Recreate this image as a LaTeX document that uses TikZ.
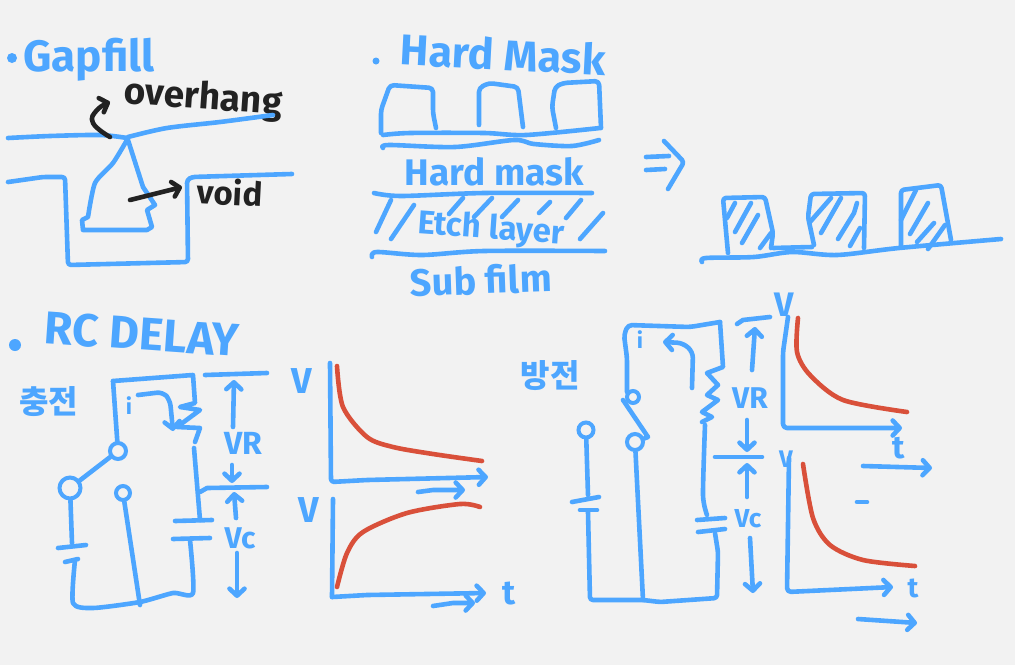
\documentclass[tikz,border=0pt]{standalone}
\usepackage{xcolor}
\usepackage{fontspec}
\setmainfont{Fira Sans}
\newfontfamily\cjk{Noto Sans CJK KR}
\usetikzlibrary{arrows.meta}
\definecolor{pen}{HTML}{4DA6FF}
\definecolor{ink}{HTML}{222222}
\definecolor{curve}{HTML}{D9503A}
\definecolor{paper}{HTML}{F2F2F2}

\begin{document}
\begin{tikzpicture}[
    x=1pt, y=-1pt,
    wire/.style={draw=pen, line width=4.6pt, line cap=round, line join=round},
    inkwire/.style={wire, draw=ink},
    redwire/.style={wire, draw=curve},
    arr/.style={-{Straight Barb[length=7pt, width=15pt, round]}},
    contact/.style={circle, draw=pen, line width=4pt, inner sep=0pt, minimum size=#1},
    lab/.style={font=\bfseries\fontsize{#1}{#1}\selectfont, text=pen, inner sep=0pt},
    inklab/.style={lab=#1, text=ink}
]

\fill[paper] (0,0) rectangle (1015,665);

% gapfill
\fill[pen] (12,58) circle (5);
\node[lab=44] (gapfill) at (89,60) {Gapfill};
\node[inklab=37, rotate=-4] (overhang) at (203,99) {overhang};
\node[inklab=33, rotate=-3] (void) at (230,192) {void};
\draw[wire] plot[smooth, tension=.5] coordinates {(8,138) (50,136) (100,135) (127,138)};
\draw[wire] plot[smooth, tension=.5] coordinates {(128,137) (167,128) (220,122) (273,115)};
\draw[wire, rounded corners=3pt] (8,182) -- (43,177) -- (65,177) -- (68,265) -- (188,262) -- (187,180) -- (192,177) -- (292,174);
\draw[wire] plot[smooth, tension=.4] coordinates {(127,140) (113,163) (95,183) (88,217)} -- (82,220) -- (83,230) -- (147,230) -- (152,227) -- (147,210) -- (155,205) -- (143,187) -- (128,140);
\draw[inkwire, arr] plot[smooth, tension=.8] coordinates {(110,137) (93,123) (97,110) (110,102)};
\draw[inkwire, arr] (130,200) -- (182,187);

% hard mask
\fill[pen] (376,61) circle (3.5);
\node[lab=43, rotate=-3] (hardmasktitle) at (503,54) {Hard Mask};
\node[lab=37] (hardmask) at (494,172) {Hard mask};
\node[lab=33, rotate=-4] (etchlayer) at (491,230) {Etch layer};
\node[lab=38, rotate=2] (subfilm) at (481,280) {Sub film};
\draw[wire, rounded corners=4pt] (381,133) -- (381,110) -- (390,85) -- (433,88) -- (433,113) -- (436,128);
\draw[wire, rounded corners=4pt] (479,125) -- (479,88) -- (489,83) -- (518,87) -- (523,127);
\draw[wire, rounded corners=4pt] (556,128) -- (552,107) -- (555,87) -- (563,83) -- (599,81) -- (601,128);
\draw[wire] plot[smooth, tension=.5] coordinates {(383,135) (410,133) (484,133) (526,135) (600,128)};
\draw[wire] plot[smooth, tension=.5] coordinates {(383,148) (389,145) (455,147) (514,140) (534,144) (572,146) (599,140)};
\draw[wire] plot[smooth, tension=.5] coordinates {(374,193) (401,196) (484,193) (592,193)};
\draw[wire] plot[smooth, tension=.5] coordinates {(372,257) (377,252) (422,255) (484,251) (605,251)};
\draw[wire] (391,200) -- (376,232);
\draw[wire] (414,205) -- (391,239);
\draw[wire] (463,198) -- (449,214);
\draw[wire] (492,198) -- (474,217);
\draw[wire] (518,200) -- (502,217);
\draw[wire] (550,202) -- (539,213);
\draw[wire] (581,200) -- (566,218);
\draw[wire] (603,213) -- (580,239);

% etched result
\draw[wire] (646,157) -- (669,156);
\draw[wire] (646,170) -- (665,169);
\draw[wire, rounded corners=3pt] (664,141) -- (684,162) -- (668,189);
\draw[wire] plot[smooth, tension=.5] coordinates {(702,262) (706,258) (754,257) (792,252) (837,255) (899,248) (1001,239)};
\draw[wire, rounded corners=3pt] (728,253) -- (723,198) -- (765,197) -- (773,233) -- (771,248);
\draw[wire] (773,248) -- (812,247);
\draw[wire, rounded corners=3pt] (814,245) -- (808,217) -- (811,194) -- (865,193) -- (864,248);
\draw[wire, rounded corners=3pt] (901,247) -- (901,190) -- (941,185) -- (951,240);
\draw[wire] (735,203) -- (727,218);
\draw[wire] (751,203) -- (735,232);
\draw[wire] (758,215) -- (742,243);
\draw[wire] (771,233) -- (760,248);
\draw[wire] (831,198) -- (810,222);
\draw[wire] (841,198) -- (821,233);
\draw[wire] (857,203) -- (854,213) -- (838,239);
\draw[wire] (860,228) -- (850,246);
\draw[wire] (916,190) -- (901,220);
\draw[wire] (928,203) -- (910,234);
\draw[wire] (934,223) -- (917,242);
\draw[wire] (945,225) -- (928,249);

% rc delay, charging
\fill[pen] (15,345) circle (6);
\node[lab=46, rotate=-4] (rcdelay) at (142,334) {RC DELAY};
\node[lab=32] (charge) at (49,402) {\cjk\bfseries 충전};
\node[contact=16pt] (swtop) at (118,451) {};
\node[contact=21pt] (swleft) at (70,488) {};
\node[contact=14pt] (swright) at (123,493) {};
\node[lab=22] (ichg) at (129,406) {i};
\draw[wire] (113,381) -- (193,375) -- (195,403) -- (180,407) -- (200,410) -- (177,427) -- (200,428) -- (195,442);
\draw[wire] (113,381) -- (swtop);
\draw[wire] (swtop) -- (swleft);
\draw[wire] (swleft) -- (72,543);
\draw[wire] (58,548) -- (86,545);
\draw[wire] (65,562) -- (78,559);
\draw[wire] plot[smooth, tension=.4] coordinates {(75,560) (73,603) (93,608) (140,602) (173,593) (193,593) (190,540)};
\draw[wire] (swright) -- (140,605);
\draw[wire] (175,521) -- (212,520);
\draw[wire] (173,539) -- (210,538);
\draw[wire] (194,448) -- (200,520);
\draw[wire] (200,492) -- (207,488) -- (267,487);
\draw[wire, arr, rounded corners=6pt] (138,395) -- (163,392) -- (170,400) -- (173,431);
\draw[wire] (205,375) -- (267,373);
\draw[wire, arr] (233,427) -- (234,380);
\node[lab=32] (vrchg) at (243,443) {VR};
\draw[wire, arr] (232,465) -- (232,483);
\draw[wire, arr] (236,518) -- (234,492);
\node[lab=30] (vcchg) at (240,538) {Vc};
\draw[wire, arr] (237,553) -- (237,598);
\node[lab=36] (vtop) at (302,381) {V};
\node[lab=36] (vbot) at (309,510) {V};
\draw[wire, rounded corners=3pt, arr] (330,363) -- (331,482) -- (367,480) -- (488,477);
\draw[redwire] plot[smooth, tension=.5] coordinates {(337,366) (343,407) (367,437) (393,447) (433,454) (482,461)};
\draw[wire, arr] (418,492) -- (433,490) -- (465,490);
\draw[wire, rounded corners=3pt] (333,499) -- (332,597);
\draw[wire, arr] (332,597) -- (367,595) -- (486,593);
\draw[redwire] plot[smooth, tension=.5] coordinates {(337,587) (347,553) (363,532) (407,513) (460,504) (480,507)};
\node[lab=34] (tchg) at (509,593) {t};
\draw[wire, arr] (433,606) -- (453,603) -- (475,603);

% discharging
\node[lab=32] (discharge) at (550,376) {\cjk\bfseries 방전};
\node[contact=15pt] (dsleft) at (586,430) {};
\node[contact=12pt] (dstop) at (633,397) {};
\node[contact=16pt] (dsbot) at (635,442) {};
\node[lab=22] (idis) at (640,340) {i};
\draw[wire] (dsleft) -- (588,495);
\draw[wire] (572,502) -- (599,497);
\draw[wire] (580,510) -- (597,510);
\draw[wire, rounded corners=3pt] (588,512) -- (590,600) -- (643,600) -- (660,602) -- (717,598) -- (718,552) -- (715,533);
\draw[wire] (697,520) -- (725,518);
\draw[wire] (698,532) -- (725,529);
\draw[wire] plot[smooth, tension=.4] coordinates {(707,515) (703,495) (705,425)};
\draw[wire] (720,322) -- (723,367) -- (707,373) -- (718,385) -- (707,395) -- (718,400) -- (702,412) -- (712,417) -- (702,422);
\draw[wire, rounded corners=4pt] (720,322) -- (690,327) -- (628,325) -- (624,335) -- (627,358) -- (627,392);
\draw[wire] (623,400) -- (648,437) -- (dsbot);
\draw[wire] (dsbot) -- (643,600);
\draw[wire, arr, rounded corners=6pt] (692,388) -- (693,352) -- (683,343) -- (663,342);
\draw[wire] (737,324) -- (743,320) -- (770,317);
\draw[wire, arr] (752,370) -- (755,327);
\node[lab=30] (vrdis) at (750,398) {VR};
\draw[wire, arr] (747,420) -- (747,452);
\draw[wire] (715,457) -- (762,457);
\draw[wire, arr] (747,497) -- (747,463);
\node[lab=26] (vcdis) at (748,519) {Vc};
\draw[wire, arr] (750,538) -- (753,593);
\node[lab=34] (vdtop) at (784,305) {V};
\node[lab=24] (vdbot) at (786,459) {V};
\draw[wire, rounded corners=4pt, arr] (788,317) -- (783,352) -- (783,428) -- (902,428);
\draw[redwire] plot[smooth, tension=.5] coordinates {(798,318) (797,352) (810,375) (843,400) (907,412)};
\node[lab=32] (tdtop) at (899,448) {t};
\draw[wire, arr] (863,466) -- (932,468);
\draw[wire] (857,502) -- (867,502);
\draw[wire, rounded corners=4pt, arr] (789,458) -- (787,592) -- (893,587);
\draw[redwire] plot[smooth, tension=.5] coordinates {(803,464) (813,518) (830,545) (863,560) (915,566)};
\node[lab=28] (tdbot) at (913,588) {t};
\draw[wire, arr] (858,619) -- (917,623);

\end{tikzpicture}
\end{document}
